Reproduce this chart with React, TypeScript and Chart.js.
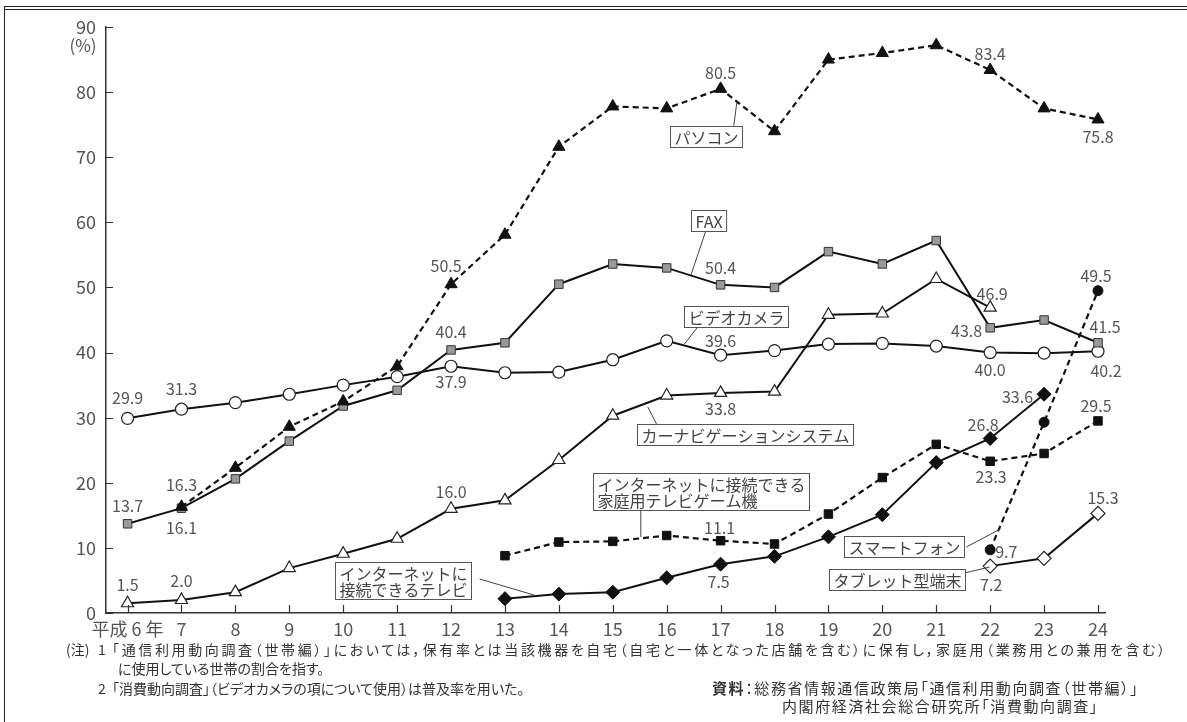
import React, { useEffect, useRef } from "react";
import { Chart, registerables } from "chart.js";

Chart.register(...registerables);

// ---------- data ----------
const years = [6, 7, 8, 9, 10, 11, 12, 13, 14, 15, 16, 17, 18, 19, 20, 21, 22, 23, 24];
const yTickValues = [0, 10, 20, 30, 40, 50, 60, 70, 80, 90];

const pcValues = [null, 16.3, 22.3, 28.6, 32.5, 37.9, 50.5, 58.1, 71.6, 77.8, 77.5, 80.5, 74.0, 85.0, 86.0, 87.2, 83.4, 77.5, 75.8];
const faxValues = [13.7, 16.1, 20.6, 26.4, 31.8, 34.2, 40.4, 41.5, 50.5, 53.6, 53.0, 50.4, 50.0, 55.5, 53.6, 57.2, 43.8, 45.0, 41.5];
const videoValues = [29.9, 31.3, 32.3, 33.6, 35.0, 36.3, 37.9, 36.9, 37.0, 38.9, 41.8, 39.6, 40.3, 41.3, 41.4, 41.0, 40.0, 39.9, 40.2];
const naviValues = [1.5, 2.0, 3.2, 6.9, 9.1, 11.4, 16.0, 17.3, 23.5, 30.3, 33.4, 33.8, 34.0, 45.8, 46.0, 51.3, 46.9, null, null];
const tvValues = [null, null, null, null, null, null, null, 2.2, 2.9, 3.2, 5.4, 7.5, 8.7, 11.7, 15.1, 23.1, 26.8, 33.6, null];
const gameValues = [null, null, null, null, null, null, null, 8.8, 10.9, 11.0, 11.9, 11.1, 10.6, 15.2, 20.8, 25.9, 23.3, 24.5, 29.5];
const smartValues = [null, null, null, null, null, null, null, null, null, null, null, null, null, null, null, null, 9.7, 29.3, 49.5];
const tabletValues = [null, null, null, null, null, null, null, null, null, null, null, null, null, null, null, null, 7.2, 8.4, 15.3];

const seriesNames = [
  "パソコン",
  "FAX",
  "ビデオカメラ",
  "カーナビゲーションシステム",
  "インターネットに接続できるテレビ",
  "インターネットに接続できる家庭用テレビゲーム機",
  "スマートフォン",
  "タブレット型端末",
];

// value labels: series index, year, offset, alignment
const valueLabels = [
  { s: 2, yr: 6, dx: 0, dy: -20, a: "center" },
  { s: 2, yr: 7, dx: 0, dy: -20, a: "center" },
  { s: 1, yr: 6, dx: 0, dy: -18, a: "center" },
  { s: 0, yr: 7, dx: 0, dy: -22, a: "center" },
  { s: 1, yr: 7, dx: 0, dy: 20, a: "center" },
  { s: 3, yr: 6, dx: 0, dy: -18, a: "center" },
  { s: 3, yr: 7, dx: 0, dy: -19, a: "center" },
  { s: 3, yr: 12, dx: 0, dy: -17, a: "center" },
  { s: 2, yr: 12, dx: 0, dy: 16, a: "center" },
  { s: 1, yr: 12, dx: 0, dy: -18, a: "center" },
  { s: 0, yr: 12, dx: -5, dy: -18, a: "center" },
  { s: 0, yr: 17, dx: 0, dy: -16, a: "center" },
  { s: 0, yr: 22, dx: 0, dy: -16, a: "center" },
  { s: 0, yr: 24, dx: 0, dy: 17, a: "center" },
  { s: 1, yr: 17, dx: 0, dy: -17, a: "center" },
  { s: 2, yr: 17, dx: 0, dy: -14, a: "center" },
  { s: 3, yr: 17, dx: 0, dy: 16, a: "center" },
  { s: 3, yr: 22, dx: 2, dy: -14, a: "center" },
  { s: 1, yr: 22, dx: -8, dy: 3, a: "right" },
  { s: 2, yr: 22, dx: 0, dy: 17, a: "center" },
  { s: 1, yr: 24, dx: 7, dy: -16, a: "center" },
  { s: 2, yr: 24, dx: 8, dy: 20, a: "center" },
  { s: 6, yr: 24, dx: -2, dy: -15, a: "center" },
  { s: 4, yr: 23, dx: -11, dy: 3, a: "right" },
  { s: 4, yr: 22, dx: -7, dy: -14, a: "center" },
  { s: 5, yr: 24, dx: -2, dy: -15, a: "center" },
  { s: 5, yr: 22, dx: 1, dy: 16, a: "center" },
  { s: 5, yr: 17, dx: -1, dy: -13, a: "center" },
  { s: 4, yr: 17, dx: -2, dy: 18, a: "center" },
  { s: 6, yr: 22, dx: 5, dy: 2, a: "left" },
  { s: 7, yr: 22, dx: 1, dy: 19, a: "center" },
  { s: 7, yr: 24, dx: 5, dy: -15, a: "center" },
];

// callout boxes in data coordinates (center), leader line in data coordinates
const callouts = [
  { lines: ["パソコン"], cx: 16.725, cy: 73.18, l: [17.244, 74.8, 17.3, 78.33] },
  { lines: ["FAX"], cx: 16.78, cy: 60.21, l: [16.725, 58.67, 16.45, 51.91] },
  { lines: ["ビデオカメラ"], cx: 17.28, cy: 45.61, l: [16.59, 44.08, 16.33, 41.31] },
  { lines: ["カーナビゲーションシステム"], cx: 17.45, cy: 27.34, l: [15.82, 28.88, 15.65, 31.64] },
  { lines: ["インターネットに接続できる", "家庭用テレビゲーム機"], cx: 16.63, cy: 18.66, l: [15.52, 15.97, 15.52, 11.67] },
  { lines: ["スマートフォン"], cx: 20.41, cy: 10.14, l: [21.56, 10.14, 22.19, 12.9] },
  { lines: ["タブレット型端末"], cx: 20.28, cy: 5.22, l: [21.52, 6.14, 21.99, 7.06] },
  { lines: ["インターネットに", "接続できるテレビ"], cx: 11.11, cy: 4.99, l: [12.53, 5.22, 13.54, 2.76] },
];

const allValues = [pcValues, faxValues, videoValues, naviValues, tvValues, gameValues, smartValues, tabletValues];

const FONT = "'Noto Sans CJK JP', 'Noto Sans', sans-serif";

function pts(vals: (number | null)[]) {
  const out: { x: number; y: number }[] = [];
  vals.forEach((v, i) => {
    if (v !== null) out.push({ x: years[i], y: v });
  });
  return out;
}

const annotPlugin = {
  id: "annot",
  afterDraw(chart: any) {
    const { ctx, chartArea } = chart;
    const xs = chart.scales.x;
    const ys = chart.scales.y;
    ctx.save();
    // inward tick marks
    ctx.strokeStyle = "#333";
    ctx.lineWidth = 1.2;
    ctx.beginPath();
    yTickValues.forEach((v) => {
      const py = Math.round(ys.getPixelForValue(v)) + 0.5;
      ctx.moveTo(chartArea.left, py);
      ctx.lineTo(chartArea.left + 7, py);
    });
    years.forEach((v) => {
      const px = Math.round(xs.getPixelForValue(v)) + 0.5;
      ctx.moveTo(px, chartArea.bottom);
      ctx.lineTo(px, chartArea.bottom - 8);
    });
    ctx.stroke();

    // unit
    ctx.fillStyle = "#555";
    ctx.font = `17px ${FONT}`;
    ctx.textAlign = "center";
    ctx.textBaseline = "middle";
    ctx.fillText("(%)", chartArea.left - 23, ys.getPixelForValue(90) + 19);

    // value labels
    ctx.font = `16px ${FONT}`;
    valueLabels.forEach((lb) => {
      const idx = years.indexOf(lb.yr);
      const v = allValues[lb.s][idx];
      if (v === null || v === undefined) return;
      const px = xs.getPixelForValue(lb.yr) + lb.dx;
      const py = ys.getPixelForValue(v) + lb.dy;
      ctx.textAlign = lb.a as CanvasTextAlign;
      ctx.fillStyle = "#555";
      ctx.fillText(v.toFixed(1), px, py);
    });

    // callouts
    ctx.font = `16px ${FONT}`;
    callouts.forEach((c) => {
      ctx.strokeStyle = "#444";
      ctx.lineWidth = 1;
      ctx.beginPath();
      ctx.moveTo(xs.getPixelForValue(c.l[0]), ys.getPixelForValue(c.l[1]));
      ctx.lineTo(xs.getPixelForValue(c.l[2]), ys.getPixelForValue(c.l[3]));
      ctx.stroke();
      const w = Math.max(...c.lines.map((t) => ctx.measureText(t).width)) + 8;
      const lh = 16;
      const h = c.lines.length * lh + 5;
      const cx = xs.getPixelForValue(c.cx);
      const cy = ys.getPixelForValue(c.cy);
      const x0 = Math.round(cx - w / 2) + 0.5;
      const y0 = Math.round(cy - h / 2) + 0.5;
      ctx.fillStyle = "#fff";
      ctx.fillRect(x0, y0, w, h);
      ctx.strokeStyle = "#555";
      ctx.strokeRect(x0, y0, w, h);
      ctx.fillStyle = "#444";
      ctx.textAlign = "left";
      ctx.textBaseline = "middle";
      c.lines.forEach((t, i) => {
        ctx.fillText(t, x0 + 4, y0 + 3 + lh / 2 + i * lh);
      });
    });
    ctx.restore();
  },
};

export default function App() {
  const ref = useRef<HTMLCanvasElement>(null);
  useEffect(() => {
    if (!ref.current) return;
    const black = "#111";
    const chart = new Chart(ref.current, {
      type: "line",
      data: {
        datasets: [
          { label: seriesNames[0], data: pts(pcValues), borderColor: black, borderWidth: 2.2, borderDash: [6, 4], pointStyle: "triangle", pointRadius: 7, pointBackgroundColor: black, pointBorderColor: black, pointBorderWidth: 1 },
          { label: seriesNames[1], data: pts(faxValues), borderColor: black, borderWidth: 2, pointStyle: "rect", pointRadius: 6, pointBackgroundColor: "#999", pointBorderColor: "#333", pointBorderWidth: 1 },
          { label: seriesNames[2], data: pts(videoValues), borderColor: black, borderWidth: 2, pointStyle: "circle", pointRadius: 6, pointBackgroundColor: "#fff", pointBorderColor: "#222", pointBorderWidth: 1.2 },
          { label: seriesNames[3], data: pts(naviValues), borderColor: black, borderWidth: 2, pointStyle: "triangle", pointRadius: 7, pointBackgroundColor: "#fff", pointBorderColor: "#222", pointBorderWidth: 1.2 },
          { label: seriesNames[4], data: pts(tvValues), borderColor: black, borderWidth: 2, pointStyle: "rectRot", pointRadius: 7, pointBackgroundColor: black, pointBorderColor: black, pointBorderWidth: 1 },
          { label: seriesNames[5], data: pts(gameValues), borderColor: black, borderWidth: 2.2, borderDash: [6, 4], pointStyle: "rect", pointRadius: 6, pointBackgroundColor: black, pointBorderColor: black, pointBorderWidth: 1 },
          { label: seriesNames[6], data: pts(smartValues), borderColor: black, borderWidth: 2.2, borderDash: [6, 4], pointStyle: "circle", pointRadius: 5, pointBackgroundColor: black, pointBorderColor: black, pointBorderWidth: 1 },
          { label: seriesNames[7], data: pts(tabletValues), borderColor: black, borderWidth: 2, pointStyle: "rectRot", pointRadius: 7, pointBackgroundColor: "#fff", pointBorderColor: "#222", pointBorderWidth: 1.2 },
        ] as any,
      },
      options: {
        animation: false,
        responsive: false,
        devicePixelRatio: 1,
        layout: { padding: { left: 0, top: 27, right: 82, bottom: 79 } },
        plugins: { legend: { display: false }, tooltip: { enabled: false }, title: { display: false } },
        elements: { line: { tension: 0 } },
        datasets: { line: { clip: false } as any },
        scales: {
          x: {
            type: "linear",
            min: 5.6,
            max: 24.13,
            grid: { display: false, drawTicks: false },
            border: { display: true, color: "#333", width: 1.5 },
            afterBuildTicks: (s: any) => {
              s.ticks = years.map((v) => ({ value: v }));
            },
            afterFit: (s: any) => {
              s.height = 30;
            },
            ticks: {
              autoSkip: false,
              maxRotation: 0,
              padding: 5,
              color: "#555",
              font: { size: 18, family: FONT },
              callback: (v: any) => (v === 6 ? "平成 6 年" : String(v)),
            },
          },
          y: {
            min: 0,
            max: 90,
            grid: { display: false, drawTicks: false },
            border: { display: true, color: "#333", width: 1.5 },
            afterBuildTicks: (s: any) => {
              s.ticks = yTickValues.map((v) => ({ value: v }));
            },
            afterFit: (s: any) => {
              s.width = 106;
            },
            ticks: {
              padding: 10,
              color: "#555",
              font: { size: 18, family: FONT },
            },
          },
        },
      },
      plugins: [annotPlugin],
    });
    return () => chart.destroy();
  }, []);

  const noteStyle: React.CSSProperties = {
    position: "absolute",
    fontFamily: FONT,
    fontSize: 13,
    color: "#333",
    lineHeight: "18px",
    whiteSpace: "nowrap",
    fontFeatureSettings: '"palt"',
  };

  return (
    <div style={{ position: "absolute", left: 0, top: 0, width: 1187, height: 722, background: "#fff", overflow: "hidden" }}>
      <div style={{ position: "absolute", left: 4, top: 6, right: 0, height: 0, borderTop: "4px double #222" }} />
      <div style={{ position: "absolute", left: 4, top: 7, bottom: 0, width: 0, borderLeft: "1.5px solid #222" }} />
      <canvas ref={ref} width={1187} height={722} style={{ position: "absolute", left: 0, top: 0 }} />
      <div style={{ ...noteStyle, left: 66, top: 640, fontSize: 14 }}>(注)</div>
      <div style={{ ...noteStyle, left: 98, top: 640, fontSize: 14 }}>1</div>
      <div style={{ ...noteStyle, left: 112, top: 640, width: 1053, fontSize: 14, textAlign: "justify", textAlignLast: "justify" as any, whiteSpace: "normal" }}>
        「通信利用動向調査（世帯編）」においては，保有率とは当該機器を自宅（自宅と一体となった店舗を含む）に保有し，家庭用（業務用との兼用を含む）
      </div>
      <div style={{ ...noteStyle, left: 118, top: 659, fontSize: 14 }}>に使用している世帯の割合を指す。</div>
      <div style={{ ...noteStyle, left: 98, top: 679, fontSize: 14 }}>2</div>
      <div style={{ ...noteStyle, left: 112, top: 679, fontSize: 14 }}>「消費動向調査」（ビデオカメラの項について使用）は普及率を用いた。</div>
      <div style={{ ...noteStyle, left: 712, top: 679, fontSize: 15, letterSpacing: 1.6 }}>
        <b>資料</b>：総務省情報通信政策局「通信利用動向調査（世帯編）」
      </div>
      <div style={{ ...noteStyle, left: 782, top: 697, fontSize: 15, letterSpacing: 1.6 }}>内閣府経済社会総合研究所「消費動向調査」</div>
    </div>
  );
}
